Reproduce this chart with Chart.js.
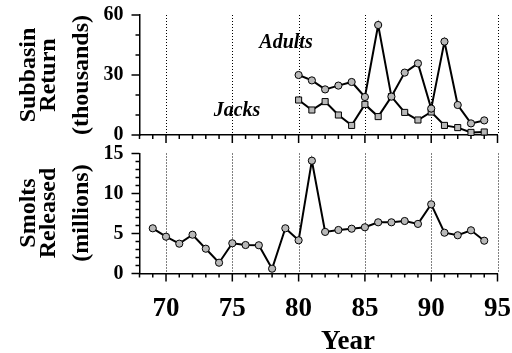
<!DOCTYPE html>
<html>
<head>
<meta charset="utf-8">
<script src="https://cdn.jsdelivr.net/npm/chart.js@4/dist/chart.umd.min.js"></script>
<style>
  html, body { margin: 0; padding: 0; background: #fff; }
  #wrap { position: relative; width: 512px; height: 353px; }
  canvas { position: absolute; left: 0; }
  #returnChart { top: 0; }
  #smoltChart { top: 140px; }
</style>
</head>
<body>
<div id="wrap">
  <canvas id="returnChart" width="512" height="150"></canvas>
  <canvas id="smoltChart" width="512" height="213"></canvas>
</div>
<script>
// values
const returnYears = [80, 81, 82, 83, 84, 85, 86, 87, 88, 89, 90, 91, 92, 93, 94];
const adults = [30, 27.3, 22.8, 24.7, 26.5, 19, 55, 19.2, 31.2, 35.8, 13.2, 46.7, 15, 5.8, 7.3];
const jacks = [17.5, 12.5, 16.7, 10, 4.8, 15.3, 9.2, 19.2, 11.3, 7.5, 11.5, 4.8, 3.7, 1.3, 1.5];

const smoltYears = [69, 70, 71, 72, 73, 74, 75, 76, 77, 78, 79, 80, 81, 82, 83, 84, 85, 86, 87, 88, 89, 90, 91, 92, 93, 94];
const smolts = [5.65, 4.6, 3.73, 4.85, 3.1, 1.35, 3.78, 3.56, 3.53, 0.6, 5.65, 4.15, 14.1, 5.2, 5.44, 5.6, 5.78, 6.4, 6.4, 6.56, 6.2, 8.65, 5.1, 4.78, 5.4, 4.1];

const yearTicks = [70, 75, 80, 85, 90, 95];
const returnTicks = [0, 30, 60];
const smoltTicks = [0, 5, 10, 15];

const SERIF = "'Liberation Serif', 'Times New Roman', serif";
const GREY = '#b8b8b8';

const pts = (xs, ys) => xs.map((x, i) => ({ x: x, y: ys[i] }));

// dotted year lines, minor/major tick marks and free text
const frame = (yMinor, yMajor, texts) => ({
  id: 'frame',
  beforeDatasetsDraw(chart) {
    const { ctx, chartArea: a, scales: { x, y } } = chart;
    ctx.save();
    ctx.strokeStyle = '#000';
    ctx.lineWidth = 1;
    ctx.setLineDash([1, 2]);
    yearTicks.forEach(v => {
      const px = Math.round(x.getPixelForValue(v)) + 0.5;
      ctx.beginPath();
      ctx.moveTo(px, a.top);
      ctx.lineTo(px, a.bottom);
      ctx.stroke();
    });
    ctx.setLineDash([]);
    ctx.lineWidth = 1.5;
    for (let v = x.min; v <= x.max; v++) {
      const px = x.getPixelForValue(v);
      const len = v % 5 === 0 ? 8 : 4;
      ctx.beginPath();
      ctx.moveTo(px, a.bottom);
      ctx.lineTo(px, a.bottom + len);
      ctx.stroke();
    }
    for (let v = y.min; v <= y.max; v += yMinor) {
      const py = y.getPixelForValue(v);
      const len = v % yMajor === 0 ? 8 : 4;
      ctx.beginPath();
      ctx.moveTo(a.left - len, py);
      ctx.lineTo(a.left, py);
      ctx.stroke();
    }
    ctx.fillStyle = '#000';
    texts.forEach(t => {
      ctx.save();
      ctx.translate(t.x, t.y);
      if (t.rot) ctx.rotate(-Math.PI / 2);
      ctx.font = t.font;
      ctx.textAlign = 'center';
      ctx.textBaseline = 'alphabetic';
      ctx.fillText(t.text, 0, 0);
      ctx.restore();
    });
    ctx.restore();
  }
});

const setTicks = list => s => { s.ticks = list.map(v => ({ value: v })); };

const yAxis = (max, list) => ({
  min: 0,
  max: max,
  afterBuildTicks: setTicks(list),
  afterFit: s => {
    s.width = 139.5;
    s.paddingTop = 0;
    s.paddingBottom = 0;
  },
  ticks: { color: '#000', padding: 16, font: { family: SERIF, size: 20, weight: 'bold' } },
  grid: { display: false, drawTicks: false, tickLength: 0 },
  border: { color: '#000', width: 1.5 }
});

const xAxis = (height, ticks) => ({
  type: 'linear',
  min: 68,
  max: 95,
  afterBuildTicks: setTicks(yearTicks),
  afterFit: s => {
    s.height = height;
    s.paddingLeft = 0;
    s.paddingRight = 0;
  },
  ticks: ticks,
  grid: { display: false, drawTicks: false, tickLength: 0 },
  border: { color: '#000', width: 1.5 }
});

const baseOptions = {
  responsive: false,
  animation: false,
  events: [],
  plugins: { legend: { display: false }, tooltip: { enabled: false } },
  elements: { line: { tension: 0 } }
};

const titleFont = 'bold 24px ' + SERIF;
const noteFont = 'italic bold 20px ' + SERIF;

new Chart(document.getElementById('returnChart'), {
  type: 'line',
  data: {
    datasets: [
      {
        label: 'Adults',
        data: pts(returnYears, adults),
        borderColor: '#000',
        borderWidth: 2,
        pointStyle: 'circle',
        pointRadius: 3.6,
        pointBackgroundColor: GREY,
        pointBorderColor: '#000',
        pointBorderWidth: 1,
        clip: false
      },
      {
        label: 'Jacks',
        data: pts(returnYears, jacks),
        borderColor: '#000',
        borderWidth: 2,
        pointStyle: 'rect',
        pointRadius: 4.3,
        pointBackgroundColor: GREY,
        pointBorderColor: '#000',
        pointBorderWidth: 1,
        clip: false
      }
    ]
  },
  options: Object.assign({}, baseOptions, {
    layout: { padding: { top: 15, right: 14.5, left: 0, bottom: 0 } },
    scales: {
      x: xAxis(15, { display: false }),
      y: yAxis(60, returnTicks)
    }
  }),
  plugins: [frame(10, 30, [
    { text: 'Subbasin', x: 35, y: 75, rot: true, font: titleFont },
    { text: 'Return', x: 55, y: 75, rot: true, font: titleFont },
    { text: '(thousands)', x: 88, y: 75, rot: true, font: titleFont },
    { text: 'Adults', x: 286, y: 48, font: noteFont },
    { text: 'Jacks', x: 237, y: 116, font: noteFont }
  ])]
});

new Chart(document.getElementById('smoltChart'), {
  type: 'line',
  data: {
    datasets: [
      {
        label: 'Smolts',
        data: pts(smoltYears, smolts),
        borderColor: '#000',
        borderWidth: 2,
        pointStyle: 'circle',
        pointRadius: 3.6,
        pointBackgroundColor: GREY,
        pointBorderColor: '#000',
        pointBorderWidth: 1,
        clip: false
      }
    ]
  },
  options: Object.assign({}, baseOptions, {
    layout: { padding: { top: 13.5, right: 14.5, left: 0, bottom: 0 } },
    scales: {
      x: xAxis(79.5, { color: '#000', padding: 19, maxRotation: 0, autoSkip: false, font: { family: SERIF, size: 27, weight: 'bold' } }),
      y: yAxis(15, smoltTicks)
    }
  }),
  plugins: [frame(1, 5, [
    { text: 'Smolts', x: 35, y: 73, rot: true, font: titleFont },
    { text: 'Released', x: 55, y: 73, rot: true, font: titleFont },
    { text: '(millions)', x: 88, y: 73, rot: true, font: titleFont },
    { text: 'Year', x: 348, y: 209, font: 'bold 27px ' + SERIF }
  ])]
});
</script>
</body>
</html>
